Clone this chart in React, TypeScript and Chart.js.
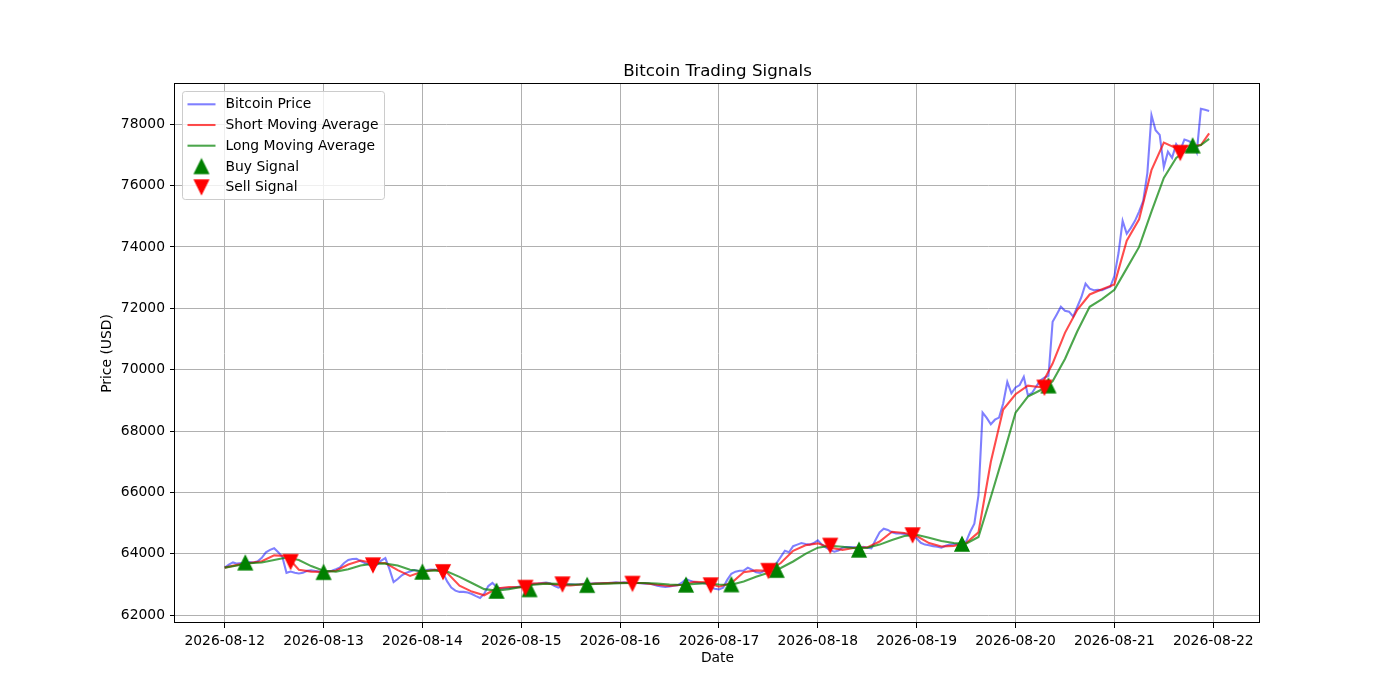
import React, { useEffect, useRef } from "react";
import { Chart, registerables } from "chart.js";

Chart.register(...registerables);

// ---------- data ----------
const dayLabels = [
  "2026-08-12", "2026-08-13", "2026-08-14", "2026-08-15", "2026-08-16", "2026-08-17",
  "2026-08-18", "2026-08-19", "2026-08-20", "2026-08-21", "2026-08-22",
];
const HOURS_PER_DAY = 24;

// hourly Bitcoin price, starting 2026-08-12 00:00
const bitcoinPrice = [
  63550, 63650, 63720, 63680, 63700, 63690, 63730, 63720, 63760, 63870, 64050, 64130, 64180, 64050, 63900, 63380, 63420, 63380, 63360, 63380, 63450, 63460, 63440, 63420,
  63410, 63420, 63450, 63500, 63560, 63700, 63800, 63830, 63840, 63760, 63700, 63650, 63560, 63650, 63780, 63860, 63500, 63080, 63180, 63300, 63380, 63420, 63470, 63440,
  63420, 63470, 63490, 63480, 63470, 63380, 63100, 62900, 62800, 62760, 62760, 62740, 62690, 62620, 62560, 62700, 62950, 63050, 62920, 62870, 62880, 62880, 62900, 62920,
  62940, 63050, 63030, 63020, 63030, 63050, 63060, 63040, 62960, 62900, 62960, 63000, 63010, 63000, 63000, 63020, 63030, 63030, 63040, 63040, 63050, 63050, 63060, 63070,
  63060, 63070, 63060, 63050, 63050, 63040, 63030, 63030, 63000, 62960, 62940, 62920, 62940, 62960, 62980, 63060, 63180, 63120, 63080, 63060, 63050, 63030, 62900, 62860,
  62840, 62900, 63150, 63350, 63420, 63450, 63450, 63550, 63480, 63400, 63380, 63450, 63520, 63580, 63700, 63900, 64100, 64050, 64250, 64300, 64350, 64320, 64300, 64350,
  64440, 64300, 64200, 64120, 64070, 64110, 64200, 64220, 64220, 64210, 64200, 64230, 64200, 64180, 64450, 64700, 64820, 64780, 64700, 64660, 64660, 64650, 64610, 64560,
  64500, 64360, 64300, 64280, 64250, 64230, 64200, 64260, 64300, 64310, 64320, 64350, 64400, 64720, 64980, 65900, 68600, 68430, 68220, 68370, 68440, 68900, 69600, 69230,
  69420, 69500, 69770, 69170, 69240, 69450, 69650, 69740, 69800, 71560, 71800, 72050, 71920, 71890, 71730, 72050, 72370, 72800, 72640, 72590, 72600, 72590, 72650, 72700,
  73050, 73800, 74850, 74430, 74620, 74850, 75150, 75500, 76400, 78290, 77800, 77650, 76600, 77100, 76900, 77350, 77150, 77500, 77450, 77380, 77080, 78500, 78470, 78430,
];

// moving averages, read every 3 hours (last value at hour 239)
const maHours = [
  0, 3, 6, 9, 12, 15, 18, 21, 24, 27, 30, 33, 36, 39, 42, 45, 48, 51, 54, 57, 60, 63, 66, 69, 72, 75, 78, 81, 84, 87, 90, 93, 96,
  99, 102, 105, 108, 111, 114, 117, 120, 123, 126, 129, 132, 135, 138, 141, 144, 147, 150, 153, 156, 159, 162, 165, 168, 171, 174,
  177, 180, 183, 186, 189, 192, 195, 198, 201, 204, 207, 210, 213, 216, 219, 222, 225, 228, 231, 234, 237, 239,
];
const shortMovingAverage = [
  63550, 63640, 63700, 63760, 63950, 63930, 63480, 63420, 63410,
  63450, 63650, 63780, 63700, 63700, 63470, 63280, 63420,
  63480, 63380, 62960, 62770, 62650, 62870, 62920, 62910,
  63030, 63040, 62980, 62970, 63010, 63030, 63045, 63060,
  63055, 63040, 62990, 62950, 62990, 63090, 63070, 62930,
  63050, 63400, 63460, 63450, 63700, 64100, 64280, 64340,
  64200, 64130, 64200, 64210, 64400, 64720, 64680, 64580,
  64350, 64240, 64260, 64350, 64700, 67000, 68700, 69200,
  69480, 69430, 70200, 71200, 71950, 72450, 72620, 72780,
  74200, 74900, 76500, 77400, 77220, 77280, 77320, 77700,
];
const longMovingAverage = [
  63550, 63620, 63690, 63720, 63800, 63880, 63800, 63600, 63450,
  63420, 63500, 63620, 63680, 63680, 63620, 63480, 63430,
  63460, 63420, 63250, 63050, 62850, 62800, 62850, 62920,
  62990, 63030, 63020, 63000, 63000, 63020, 63030, 63045,
  63050, 63050, 63030, 63000, 62985, 63020, 63040, 63000,
  62990, 63100, 63250, 63380, 63540, 63750, 64000, 64200,
  64260, 64230, 64180, 64200, 64300, 64450, 64580, 64620,
  64520, 64420, 64350, 64330, 64550, 65850, 67200, 68600,
  69120, 69330, 69620, 70350, 71250, 72050, 72300, 72600,
  73300, 74000, 75150, 76250, 76900, 77200, 77320, 77520,
];

const buyHours = [5, 24, 48, 66, 74, 88, 112, 123, 134, 154, 179, 200, 235];
const buyPrices = [63710, 63400, 63410, 62790, 62840, 62980, 62990, 63000, 63470, 64130, 64320, 69480, 77300];
const sellHours = [16, 36, 53, 73, 82, 99, 118, 132, 147, 167, 199, 232];
const sellPrices = [63740, 63630, 63410, 62900, 63010, 63030, 62980, 63450, 64270, 64610, 69420, 77070];

const yTickValues = [62000, 64000, 66000, 68000, 70000, 72000, 74000, 76000, 78000];

// ---------- layout / style ----------
const W = 1400;
const H = 700;
const AX_LEFT = 175;
const AX_RIGHT = 1260;
const AX_TOP = 84;
const AX_BOTTOM = 623;
const X_MIN = -12.07;
const X_MAX = 251.35;
const Y_MIN = 61746;
const Y_MAX = 79308;
const FONT = '"DejaVu Sans", "Liberation Sans", sans-serif';
const PT = 100 / 72;
const TICK_SIZE = 10 * PT;
const TITLE_SIZE = 12 * PT;

const PRICE_COLOR = "rgba(0,0,255,0.5)";
const SHORT_COLOR = "rgba(255,0,0,0.7)";
const LONG_COLOR = "rgba(0,128,0,0.7)";
const BUY_COLOR = "#008000";
const SELL_COLOR = "#ff0000";
const LINE_W = 1.5 * PT;

function makeTriangle(color: string, up: boolean): HTMLCanvasElement {
  const c = document.createElement("canvas");
  const s = 18;
  c.width = s;
  c.height = s;
  const ctx = c.getContext("2d")!;
  const half = (10 * PT) / 2;
  const cx = s / 2;
  const cy = s / 2;
  ctx.fillStyle = color;
  ctx.strokeStyle = color;
  ctx.lineWidth = 1 * PT;
  ctx.lineJoin = "miter";
  ctx.beginPath();
  if (up) {
    ctx.moveTo(cx, cy - half);
    ctx.lineTo(cx + half, cy + half);
    ctx.lineTo(cx - half, cy + half);
  } else {
    ctx.moveTo(cx - half, cy - half);
    ctx.lineTo(cx + half, cy - half);
    ctx.lineTo(cx, cy + half);
  }
  ctx.closePath();
  ctx.fill();
  ctx.stroke();
  return c;
}

export default function App() {
  const canvasRef = useRef<HTMLCanvasElement | null>(null);

  useEffect(() => {
    const canvas = canvasRef.current;
    if (!canvas) return;
    const buyImg = makeTriangle(BUY_COLOR, true);
    const sellImg = makeTriangle(SELL_COLOR, false);

    const decorPlugin = {
      id: "decor",
      afterDatasetsDraw(chart: any) {
        const { ctx, chartArea } = chart;
        ctx.save();
        ctx.strokeStyle = "#000";
        ctx.lineWidth = 1;
        const l = Math.round(chartArea.left) - 0.5;
        const r = Math.round(chartArea.right) - 0.5;
        const t = Math.round(chartArea.top) - 0.5;
        const b = Math.round(chartArea.bottom) - 0.5;
        ctx.strokeRect(l, t, r - l, b - t);
        ctx.restore();
      },
      afterDraw(chart: any) {
        const { ctx, chartArea } = chart;
        ctx.save();
        // title
        ctx.fillStyle = "#000";
        ctx.font = `${TITLE_SIZE}px ${FONT}`;
        ctx.textAlign = "center";
        ctx.textBaseline = "alphabetic";
        ctx.fillText("Bitcoin Trading Signals", (chartArea.left + chartArea.right) / 2, chartArea.top - 8);

        // legend
        const bx = chartArea.left + 7.5;
        const by = chartArea.top + 7.5;
        const bw = 202;
        const bh = 108;
        const rad = 2.8;
        ctx.beginPath();
        ctx.moveTo(bx + rad, by);
        ctx.lineTo(bx + bw - rad, by);
        ctx.arcTo(bx + bw, by, bx + bw, by + rad, rad);
        ctx.lineTo(bx + bw, by + bh - rad);
        ctx.arcTo(bx + bw, by + bh, bx + bw - rad, by + bh, rad);
        ctx.lineTo(bx + rad, by + bh);
        ctx.arcTo(bx, by + bh, bx, by + bh - rad, rad);
        ctx.lineTo(bx, by + rad);
        ctx.arcTo(bx, by, bx + rad, by, rad);
        ctx.closePath();
        ctx.fillStyle = "rgba(255,255,255,0.8)";
        ctx.fill();
        ctx.strokeStyle = "#cccccc";
        ctx.lineWidth = 1;
        ctx.stroke();

        const ds = chart.data.datasets;
        const rowY0 = chartArea.top + 20.3;
        const rowStep = 20.7;
        const hx0 = chartArea.left + 12.5;
        const hx1 = chartArea.left + 40.5;
        const tx = chartArea.left + 50.5;
        ctx.font = `${TICK_SIZE}px ${FONT}`;
        ctx.textAlign = "left";
        ctx.textBaseline = "middle";
        ds.forEach((d: any, i: number) => {
          const y = rowY0 + i * rowStep;
          if (d.legendImage) {
            const img = d.legendImage as HTMLCanvasElement;
            ctx.drawImage(img, (hx0 + hx1) / 2 - img.width / 2, y - img.height / 2);
          } else {
            ctx.strokeStyle = d.borderColor;
            ctx.lineWidth = d.borderWidth;
            ctx.beginPath();
            ctx.moveTo(hx0, y);
            ctx.lineTo(hx1, y);
            ctx.stroke();
          }
          ctx.fillStyle = "#000";
          ctx.fillText(d.label, tx, y + 0.5);
        });
        ctx.restore();
      },
    };

    const tickFont = { family: FONT, size: TICK_SIZE };

    const chart = new Chart(canvas, {
      type: "line",
      data: {
        datasets: [
          {
            label: "Bitcoin Price",
            data: bitcoinPrice.map((p, h) => ({ x: h, y: p })),
            borderColor: PRICE_COLOR,
            borderWidth: LINE_W,
            pointRadius: 0,
            tension: 0,
            order: 5,
          },
          {
            label: "Short Moving Average",
            data: shortMovingAverage.map((v, i) => ({ x: maHours[i], y: v })),
            borderColor: SHORT_COLOR,
            borderWidth: LINE_W,
            pointRadius: 0,
            tension: 0,
            order: 4,
          },
          {
            label: "Long Moving Average",
            data: longMovingAverage.map((v, i) => ({ x: maHours[i], y: v })),
            borderColor: LONG_COLOR,
            borderWidth: LINE_W,
            pointRadius: 0,
            tension: 0,
            order: 3,
          },
          {
            label: "Buy Signal",
            data: buyHours.map((h, i) => ({ x: h, y: buyPrices[i] })),
            showLine: false,
            pointStyle: buyImg,
            pointRadius: 7,
            backgroundColor: BUY_COLOR,
            borderColor: BUY_COLOR,
            order: 2,
            legendImage: buyImg,
          } as any,
          {
            label: "Sell Signal",
            data: sellHours.map((h, i) => ({ x: h, y: sellPrices[i] })),
            showLine: false,
            pointStyle: sellImg,
            pointRadius: 7,
            backgroundColor: SELL_COLOR,
            borderColor: SELL_COLOR,
            order: 1,
            legendImage: sellImg,
          } as any,
        ],
      },
      options: {
        responsive: false,
        animation: false,
        events: [],
        devicePixelRatio: 1,
        layout: { padding: { left: 0, top: AX_TOP, right: W - AX_RIGHT, bottom: 0 } },
        plugins: {
          legend: { display: false },
          title: { display: false },
          tooltip: { enabled: false },
        },
        scales: {
          x: {
            type: "linear",
            min: X_MIN,
            max: X_MAX,
            afterBuildTicks: (s: any) => {
              s.ticks = dayLabels.map((_, i) => ({ value: i * HOURS_PER_DAY }));
            },
            afterFit: (s: any) => {
              s.height = H - AX_BOTTOM;
            },
            ticks: {
              autoSkip: false,
              maxRotation: 0,
              minRotation: 0,
              padding: 5,
              color: "#000",
              font: tickFont,
              callback: (v: any) => dayLabels[Math.round(Number(v) / HOURS_PER_DAY)] ?? "",
            },
            grid: {
              color: "#b0b0b0",
              lineWidth: 1,
              drawTicks: true,
              tickLength: 5,
              tickColor: "#000",
              tickWidth: 1,
            },
            border: { display: false },
            title: {
              display: true,
              text: "Date",
              color: "#000",
              font: tickFont,
              padding: { top: 0, bottom: 33.5 },
            },
          },
          y: {
            type: "linear",
            min: Y_MIN,
            max: Y_MAX,
            afterBuildTicks: (s: any) => {
              s.ticks = yTickValues.map((v) => ({ value: v }));
            },
            afterFit: (s: any) => {
              s.width = AX_LEFT;
            },
            ticks: {
              padding: 5,
              color: "#000",
              font: tickFont,
              callback: (v: any) => String(v),
            },
            grid: {
              color: "#b0b0b0",
              lineWidth: 1,
              drawTicks: true,
              tickLength: 5,
              tickColor: "#000",
              tickWidth: 1,
            },
            border: { display: false },
            title: {
              display: true,
              text: "Price (USD)",
              color: "#000",
              font: tickFont,
              padding: { top: 99, bottom: 0 },
            },
          },
        },
      },
      plugins: [decorPlugin],
    } as any);

    return () => {
      chart.destroy();
    };
  }, []);

  return (
    <div style={{ position: "absolute", left: 0, top: 0, width: W, height: H, background: "#ffffff" }}>
      <canvas ref={canvasRef} width={W} height={H} style={{ display: "block", width: W, height: H }} />
    </div>
  );
}
